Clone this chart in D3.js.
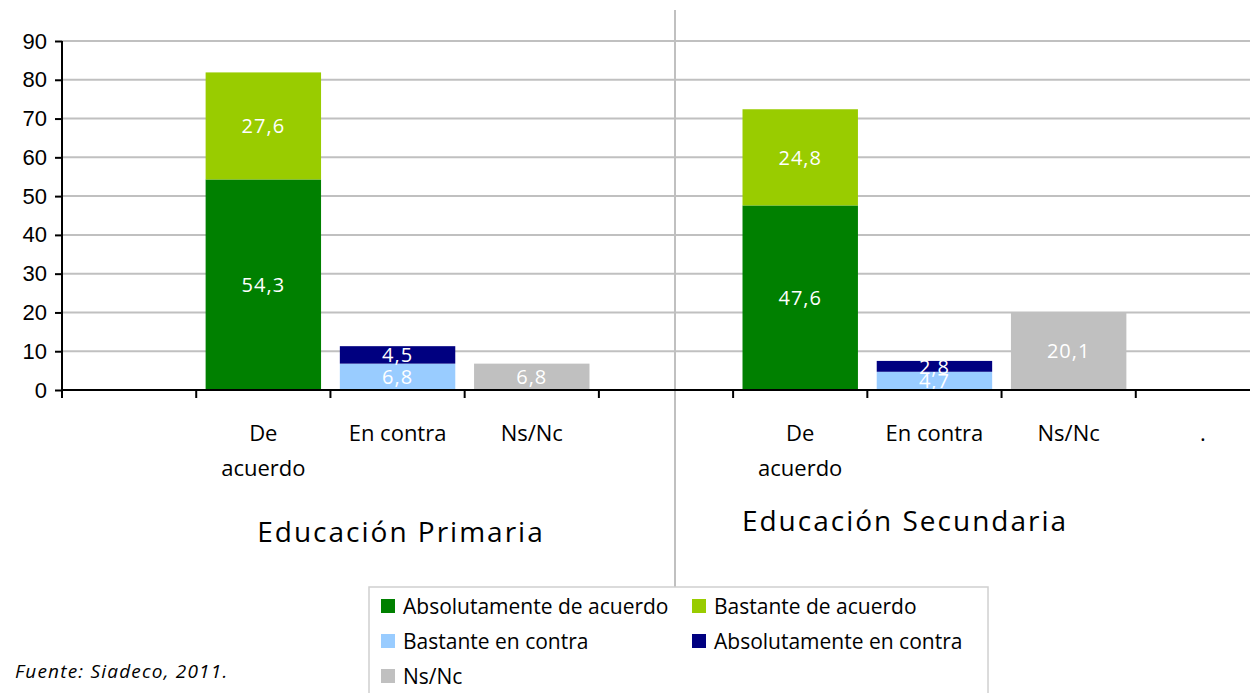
<!DOCTYPE html>
<html>
<head>
<meta charset="utf-8">
<script src="https://cdn.jsdelivr.net/npm/d3@7"></script>
<style>
  body { margin: 0; background: #fff; }
  svg { display: block; font-family: "Open Sans", "DejaVu Sans", sans-serif; }
</style>
</head>
<body>
<script>
// dimensions de la page
var w = 1250, h = 693;

// categories (9 cases, dont des cases vides)
const slots = ["", "De acuerdo", "En contra", "Ns/Nc", "", "De acuerdo", "En contra", "Ns/Nc", "."];
const groups = ["Educación Primaria", "Educación Secundaria"];

// series (valeur par case)
const absAcuerdo   = [null, 54.3, null, null, null, 47.6, null, null, null];
const bastAcuerdo  = [null, 27.6, null, null, null, 24.8, null, null, null];
const bastContra   = [null, null, 6.8, null, null, null, 4.7, null, null];
const absContra    = [null, null, 4.5, null, null, null, 2.8, null, null];
const nsnc         = [null, null, null, 6.8, null, null, null, 20.1, null];

const seriesNames = ["Absolutamente de acuerdo", "Bastante de acuerdo", "Bastante en contra", "Absolutamente en contra", "Ns/Nc"];
const seriesVals  = [absAcuerdo, bastAcuerdo, bastContra, absContra, nsnc];
const colors = ["#008000", "#99CC00", "#99CCFF", "#000080", "#C0C0C0"];

const yTicks = [0, 10, 20, 30, 40, 50, 60, 70, 80, 90];

var svg = d3.select("body").append("svg").attr("width", w).attr("height", h);

var x = d3.scaleBand().domain(d3.range(slots.length)).range([62, 1270]).paddingInner(0.14).paddingOuter(0.07);
var y = d3.scaleLinear().domain([0, 90]).range([390, 41]);

// grille
svg.append("g").selectAll("line").data(yTicks.slice(1)).enter().append("line")
  .attr("x1", 62).attr("x2", w)
  .attr("y1", d => y(d)).attr("y2", d => y(d))
  .attr("stroke", "#c0c0c0").attr("stroke-width", 2);

// separateur vertical
svg.append("line").attr("x1", 675).attr("x2", 675).attr("y1", 10).attr("y2", 587)
  .attr("stroke", "#c0c0c0").attr("stroke-width", 2);

// barres empilees
var stacked = [];
slots.forEach(function(s, i) {
  var base = 0;
  seriesVals.forEach(function(arr, k) {
    if (arr[i] != null) {
      stacked.push({ slot: i, k: k, y0: base, y1: base + arr[i], v: arr[i] });
      base += arr[i];
    }
  });
});

svg.append("g").selectAll("rect").data(stacked).enter().append("rect")
  .attr("x", d => x(d.slot))
  .attr("width", x.bandwidth())
  .attr("y", d => y(d.y1))
  .attr("height", d => y(d.y0) - y(d.y1))
  .attr("fill", d => colors[d.k]);

svg.append("g").selectAll("text").data(stacked).enter().append("text")
  .attr("x", d => x(d.slot) + x.bandwidth() / 2)
  .attr("y", d => (y(d.y0) + y(d.y1)) / 2)
  .attr("dy", "0.36em")
  .attr("text-anchor", "middle")
  .attr("fill", "#fff")
  .attr("font-size", 20)
  .attr("letter-spacing", 1)
  .text(d => d3.format(".1f")(d.v).replace(".", ","));

// axe Y
var yAxis = svg.append("g").attr("transform", "translate(62,0)")
  .call(d3.axisLeft(y).tickValues(yTicks).tickSize(7).tickSizeOuter(0));
yAxis.select(".domain").attr("stroke", "#000").attr("stroke-width", 2).attr("d", "M0,41V398");
yAxis.selectAll(".tick line").attr("stroke", "#000").attr("stroke-width", 2);
yAxis.selectAll(".tick text").attr("font-size", 22).attr("fill", "#000").attr("font-family", "inherit").attr("x", -15);

// axe X : ligne + graduations aux limites des cases
var step = x.step();
var x0 = x.range()[0];
svg.append("line").attr("x1", 62).attr("x2", w).attr("y1", 390).attr("y2", 390)
  .attr("stroke", "#000").attr("stroke-width", 2);
svg.append("g").selectAll("line").data(d3.range(slots.length + 1)).enter().append("line")
  .attr("x1", d => x0 + d * step).attr("x2", d => x0 + d * step)
  .attr("y1", 390).attr("y2", 398)
  .attr("stroke", "#000").attr("stroke-width", 2);

// etiquettes des categories
var lab = svg.append("g").selectAll("text").data(slots).enter().append("text")
  .attr("x", (d, i) => x(i) + x.bandwidth() / 2)
  .attr("y", 441)
  .attr("text-anchor", "middle")
  .attr("font-size", 22)
  .attr("fill", "#000");
lab.each(function(d) {
  var parts = d === "De acuerdo" ? ["De", "acuerdo"] : [d];
  var t = d3.select(this);
  parts.forEach(function(p, j) {
    t.append("tspan").attr("x", t.attr("x")).attr("dy", j === 0 ? 0 : 35).text(p);
  });
});

// titres des groupes
svg.append("text").attr("x", 401).attr("y", 542).attr("text-anchor", "middle")
  .attr("font-size", 28).attr("font-weight", 500).attr("letter-spacing", 2).text(groups[0]);
svg.append("text").attr("x", 905).attr("y", 531).attr("text-anchor", "middle")
  .attr("font-size", 28).attr("font-weight", 500).attr("letter-spacing", 2).text(groups[1]);

// legende
var leg = svg.append("g");
leg.append("rect").attr("x", 369).attr("y", 587).attr("width", 619).attr("height", 120)
  .attr("fill", "#fff").attr("stroke", "#d0d0d0").attr("stroke-width", 1.5);
var legPos = [[381, 606], [692, 606], [381, 641], [692, 641], [381, 676]];
var li = leg.selectAll("g.item").data(seriesNames).enter().append("g").attr("class", "item")
  .attr("transform", (d, i) => "translate(" + legPos[i][0] + "," + legPos[i][1] + ")");
li.append("rect").attr("x", 0).attr("y", -7).attr("width", 14).attr("height", 14)
  .attr("fill", (d, i) => colors[i]);
li.append("text").attr("x", 22).attr("dy", "0.36em").attr("font-size", 21).text(d => d);

// source
svg.append("text").attr("x", 15).attr("y", 678).attr("font-size", 19).attr("letter-spacing", 1.2)
  .attr("font-style", "italic").text("Fuente: Siadeco, 2011.");
</script>
</body>
</html>
